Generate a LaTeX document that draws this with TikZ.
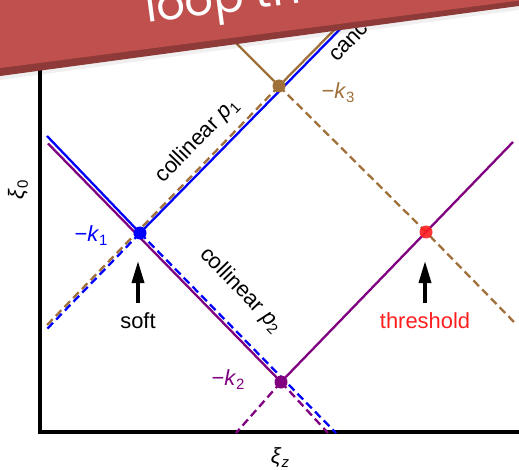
\documentclass[tikz,border=0pt]{standalone}
\usepackage{fontspec}
\setmainfont{Liberation Sans}
\newfontfamily\bannerfont{Poppins}
\usetikzlibrary{arrows.meta}
\definecolor{kbrown}{RGB}{160,112,58}
\definecolor{kpurple}{RGB}{128,0,128}
\definecolor{kblue}{RGB}{0,0,255}
\definecolor{kred}{RGB}{255,30,30}
\definecolor{bannerred}{RGB}{192,80,78}
\definecolor{bannerdark}{RGB}{142,58,56}
\newcommand\lsub[1]{\raisebox{-0.35ex}{\fontsize{15}{15}\selectfont #1}}
\begin{document}
\begin{tikzpicture}[x=1bp,y=-1bp,
  wline/.style={line width=2.3bp},
  dsh/.style={wline, dash pattern=on 8bp off 4.5bp},
  lbl/.style={font=\fontsize{22}{24}\selectfont, inner sep=0pt},
  dotnode/.style={circle, inner sep=0pt, minimum size=13bp},
  uparrow/.style={line width=3.5bp, -{Triangle[length=22bp,width=12bp]}}]
\useasboundingbox (0,0) rectangle (519,470);
\fill[white] (0,0) rectangle (519,470);
% key points
\coordinate (K1) at (140,233);
\coordinate (K3) at (279,86);
\coordinate (K2) at (281,382);
\coordinate (TH) at (426,232);
% ends
\coordinate (bTL) at (47,136);
\coordinate (bTR) at (352,17);
\coordinate (bBL) at (47,329);
\coordinate (bBR) at (336,433);
\coordinate (pTL) at (48,143.5);
\coordinate (pTR) at (513,142);
\coordinate (pBL) at (236,433);
\coordinate (pBR) at (328,433);
\coordinate (nUL) at (232,39);
\coordinate (nUR) at (344,20);
\coordinate (nBL) at (47,325);
\coordinate (nBR) at (515,323);
\coordinate (axTop) at (40,60);
\coordinate (axCorner) at (40,432);
\coordinate (axRight) at (519,432);
% axes
\draw[line width=3.5bp] (axTop) -- (axCorner) -- (axRight);
% brown
\draw[wline, kbrown] (K3) -- (nUL);
\draw[wline, kbrown] (K3) -- (nUR);
\draw[dsh, kbrown] (K3) -- (nBL);
\draw[dsh, kbrown] (K3) -- (TH) -- (nBR);
% purple
\draw[wline, kpurple] (pTL) -- (K2);
\draw[wline, kpurple] (K2) -- (pTR);
\draw[dsh, kpurple] (K2) -- (pBL);
\draw[dsh, kpurple] (K2) -- (pBR);
% blue
\draw[wline, kblue] (bTL) -- (K1);
\draw[wline, kblue] (K1) -- (bTR);
\draw[dsh, kblue] (K1) -- (bBL);
\draw[dsh, kblue] (K1) -- (bBR);
% dots
\node[dotnode, fill=kblue] (k1) at (K1) {};
\node[dotnode, fill=kbrown] (k3) at (K3) {};
\node[dotnode, fill=kpurple] (k2) at (K2) {};
\node[dotnode, fill=kred, opacity=0.9] (th) at (TH) {};
% labels
\node[lbl, text=kblue] (lk1) at (91,236) {−\textit{k}\lsub{1}};
\node[lbl, text=kbrown] (lk3) at (338,93) {−\textit{k}\lsub{3}};
\node[lbl, text=kpurple] (lk2) at (228,380) {−\textit{k}\lsub{2}};
\node[lbl, rotate=46] (cp1) at (197,141) {collinear \textit{p}\lsub{1}};
\node[lbl, rotate=-46] (cp2) at (241,290) {collinear \textit{p}\lsub{2}};
\node[lbl, rotate=46, anchor=base west] (canc) at (337,63) {canc};
\node[lbl] (soft) at (138,321) {soft};
\node[lbl, text=kred] (thr) at (425,321) {threshold};
\coordinate (sa0) at (138,303);
\coordinate (sa1) at (138,261);
\coordinate (ta0) at (425,303);
\coordinate (ta1) at (425,261);
\draw[uparrow] (sa0) -- (sa1);
\draw[uparrow] (ta0) -- (ta1);
\node[lbl, rotate=90] (xi0) at (18,190) {\textit{ξ}\lsub{0}};
\node[lbl] (xiz) at (280,458) {\textit{ξ}\lsub{\textit{z}}};
% banner
\fill[black, opacity=0.06] (-2,-2) -- (521,-2) -- (521,9.7) -- (-2,80.3) -- cycle;
\fill[bannerdark] (-2,-2) -- (521,-2) -- (521,5.7) -- (-2,76.3) -- cycle;
\fill[bannerred] (-2,-2) -- (521,-2) -- (521,0.3) -- (-2,68.3) -- cycle;
\node[anchor=base west, rotate=7.5, text=white, inner sep=0pt,
  font=\bannerfont\fontsize{45}{45}\selectfont] (ban) at (147,23) {loop th};
\end{tikzpicture}
\end{document}
